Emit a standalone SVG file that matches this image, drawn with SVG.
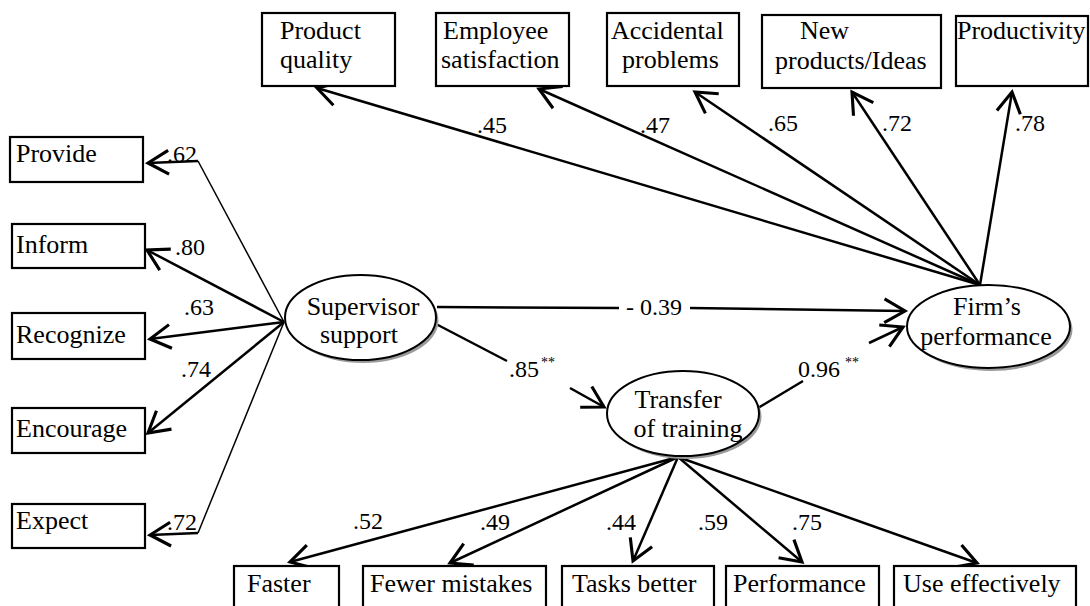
<svg xmlns="http://www.w3.org/2000/svg" width="1090" height="606" viewBox="0 0 1090 606">
<style>
text{font-family:'Liberation Serif','Times New Roman',serif;fill:#000}
.lbl{font-size:26px}
.num{font-size:24px}
.sup{font-size:14px}
.box{fill:#fff;stroke:#000;stroke-width:2.2}
.ell{fill:#fff;stroke:#000;stroke-width:2}
.shd{fill:#9a9a9a;stroke:none}
.c{fill:none;stroke:#000;stroke-width:2.5}
.t{fill:none;stroke:#000;stroke-width:1.5}
.a{marker-end:url(#arr)}
</style>
<defs>
<marker id="arr" markerUnits="userSpaceOnUse" markerWidth="30" markerHeight="30" refX="0" refY="0" viewBox="-20 -12 22 24" orient="auto" overflow="visible">
<path d="M-16.5,-9.5 L0,0 L-16.5,9.5" fill="none" stroke="#000" stroke-width="2.5"/>
</marker>
</defs>
<rect width="1090" height="606" fill="#fff"/>
<g id="connectors">
<line class="c a" x1="980" y1="285" x2="317" y2="88"/>
<line class="c a" x1="980" y1="285" x2="539" y2="89"/>
<line class="c a" x1="980" y1="285" x2="695" y2="92"/>
<line class="c a" x1="980" y1="285" x2="852" y2="92"/>
<line class="c a" x1="980" y1="285" x2="1012" y2="92"/>
<text class="num" x="477" y="133">.45</text>
<text class="num" x="640" y="133">.47</text>
<text class="num" x="768" y="131">.65</text>
<text class="num" x="882" y="131">.72</text>
<text class="num" x="1015" y="131">.78</text>
<line class="t" x1="284" y1="322" x2="198" y2="161"/>
<line class="c a" x1="198" y1="161" x2="148" y2="163"/>
<line class="c a" x1="284" y1="322" x2="147" y2="250"/>
<line class="c a" x1="284" y1="322" x2="150" y2="339"/>
<line class="c a" x1="284" y1="322" x2="148" y2="433"/>
<line class="t" x1="284" y1="322" x2="198" y2="533"/>
<line class="c a" x1="198" y1="533" x2="150" y2="535"/>
<text class="num" x="167" y="162">.62</text>
<text class="num" x="175" y="255">.80</text>
<text class="num" x="184" y="315">.63</text>
<text class="num" x="181" y="377">.74</text>
<text class="num" x="167" y="530">.72</text>
<line class="c" x1="437" y1="307" x2="619" y2="308"/>
<line class="c a" x1="690" y1="308" x2="905" y2="311"/>
<text class="num" x="626" y="315">- 0.39</text>
<line class="c" x1="436" y1="324" x2="507" y2="361"/>
<line class="c a" x1="570" y1="388" x2="604" y2="407"/>
<text class="num" x="509" y="377">.85</text>
<text class="sup" x="541" y="367">**</text>
<line class="c" x1="758" y1="408" x2="803" y2="381"/>
<line class="c a" x1="869" y1="343" x2="903" y2="327"/>
<text class="num" x="798" y="377">0.96</text>
<text class="sup" x="845" y="367">**</text>
<line class="c a" x1="678" y1="457" x2="290" y2="562"/>
<line class="c a" x1="678" y1="457" x2="450" y2="563"/>
<line class="c a" x1="678" y1="457" x2="633" y2="561"/>
<line class="c a" x1="678" y1="457" x2="802" y2="562"/>
<line class="c a" x1="678" y1="457" x2="977" y2="563"/>
<text class="num" x="353" y="529">.52</text>
<text class="num" x="480" y="530">.49</text>
<text class="num" x="606" y="530">.44</text>
<text class="num" x="698" y="530">.59</text>
<text class="num" x="792" y="530">.75</text>
</g>
<g id="product-quality"><rect class="box" x="262" y="13" width="133" height="73"/><text class="lbl" x="280" y="39">Product</text><text class="lbl" x="280" y="68">quality</text></g>
<g id="employee-satisfaction"><rect class="box" x="436" y="13" width="133" height="73"/><text class="lbl" x="443" y="39">Employee</text><text class="lbl" x="441" y="68">satisfaction</text></g>
<g id="accidental-problems"><rect class="box" x="607" y="13" width="132" height="73"/><text class="lbl" x="611" y="39">Accidental</text><text class="lbl" x="622" y="68">problems</text></g>
<g id="new-products"><rect class="box" x="762" y="15" width="179" height="73"/><text class="lbl" x="800" y="39">New</text><text class="lbl" x="775" y="69">products/Ideas</text></g>
<g id="productivity"><rect class="box" x="956" y="16" width="132" height="70"/><text class="lbl" x="957" y="39">Productivity</text></g>
<g id="provide"><rect class="box" x="10" y="137" width="133" height="45"/><text class="lbl" x="16" y="162">Provide</text></g>
<g id="inform"><rect class="box" x="12" y="224" width="133" height="44"/><text class="lbl" x="16" y="253">Inform</text></g>
<g id="recognize"><rect class="box" x="12" y="313" width="133" height="46"/><text class="lbl" x="16" y="343">Recognize</text></g>
<g id="encourage"><rect class="box" x="12" y="408" width="133" height="45"/><text class="lbl" x="16" y="437">Encourage</text></g>
<g id="expect"><rect class="box" x="12" y="504" width="133" height="44"/><text class="lbl" x="16" y="529">Expect</text></g>
<g id="supervisor-support"><ellipse class="shd" cx="363" cy="320.5" rx="75.5" ry="42.5"/><ellipse class="ell" cx="360.5" cy="317.5" rx="75.5" ry="42.5"/><text class="lbl" x="363" y="315" text-anchor="middle">Supervisor</text><text class="lbl" x="359" y="343" text-anchor="middle">support</text></g>
<g id="transfer-of-training"><ellipse class="shd" cx="685.5" cy="416.5" rx="76" ry="42.5"/><ellipse class="ell" cx="683" cy="413.5" rx="76" ry="42.5"/><text class="lbl" x="678" y="408" text-anchor="middle">Transfer</text><text class="lbl" x="688" y="437" text-anchor="middle">of training</text></g>
<g id="firms-performance"><ellipse class="shd" cx="991" cy="329.5" rx="81.5" ry="41.5"/><ellipse class="ell" cx="988.5" cy="326.5" rx="81.5" ry="41.5"/><text class="lbl" x="987" y="315" text-anchor="middle">Firm’s</text><text class="lbl" x="986" y="345" text-anchor="middle">performance</text></g>
<g id="faster"><rect class="box" x="234" y="566" width="105" height="50"/><text class="lbl" x="247" y="592">Faster</text></g>
<g id="fewer-mistakes"><rect class="box" x="363" y="566" width="183" height="50"/><text class="lbl" x="370" y="592">Fewer mistakes</text></g>
<g id="tasks-better"><rect class="box" x="562" y="566" width="152" height="50"/><text class="lbl" x="572" y="592">Tasks better</text></g>
<g id="performance"><rect class="box" x="726" y="566" width="153" height="50"/><text class="lbl" x="733" y="592">Performance</text></g>
<g id="use-effectively"><rect class="box" x="894" y="566" width="182" height="50"/><text class="lbl" x="903" y="592">Use effectively</text></g>
</svg>
